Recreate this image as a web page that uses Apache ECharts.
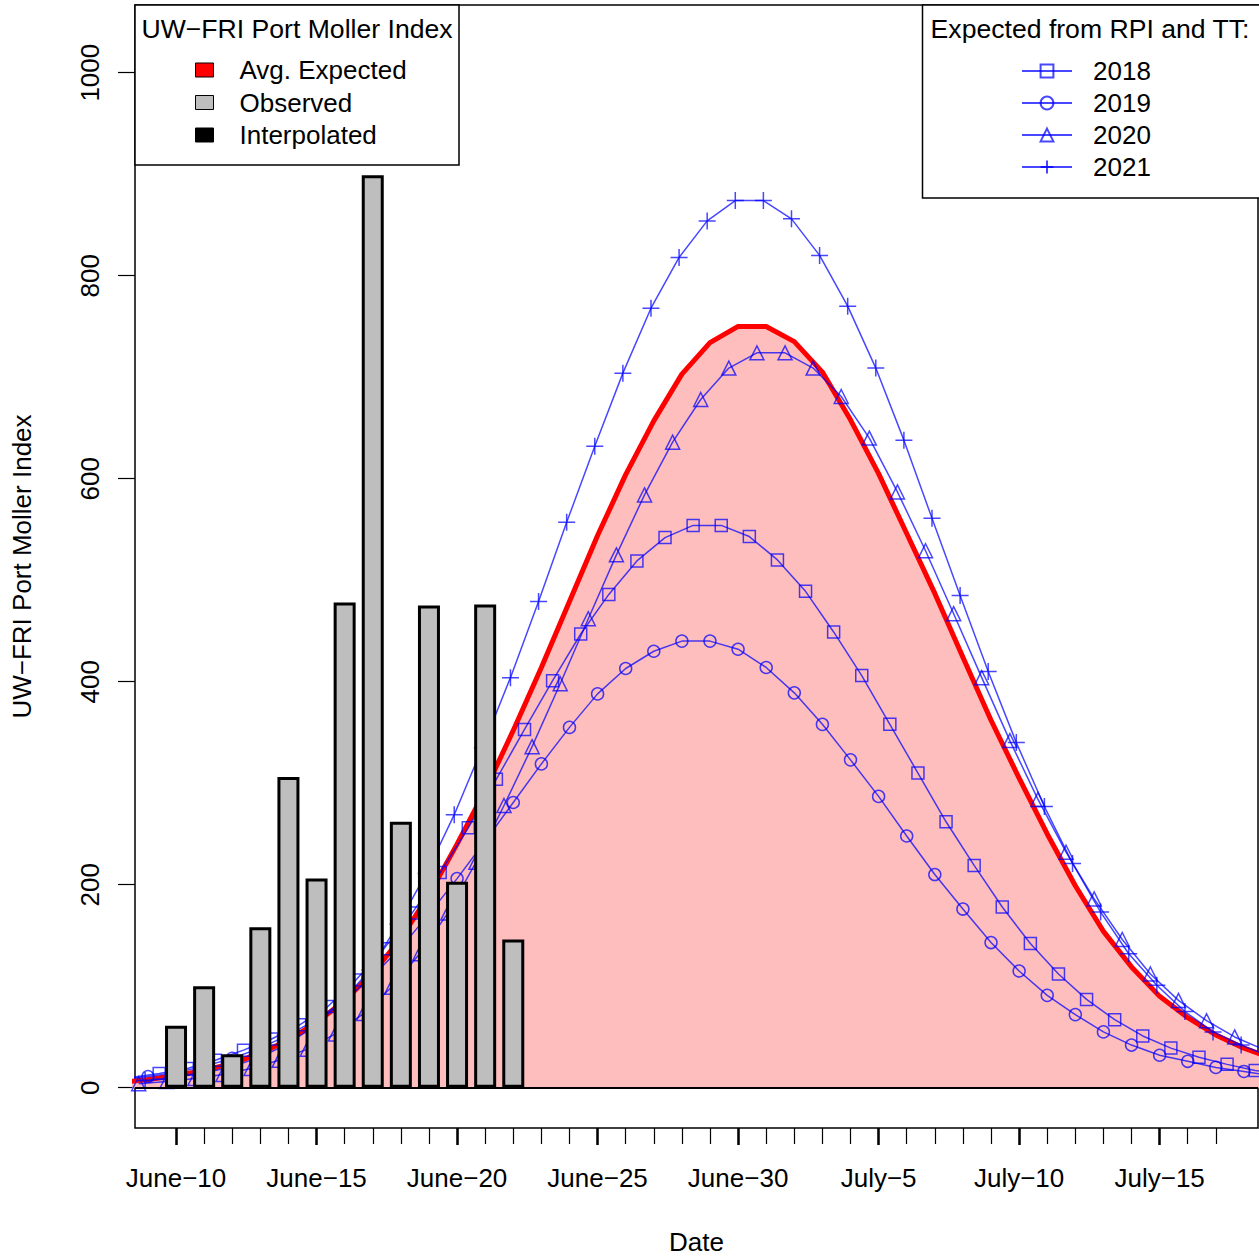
<!DOCTYPE html>
<html>
<head>
<meta charset="utf-8">
<title>UW-FRI Port Moller Index</title>
<script src="https://cdn.jsdelivr.net/npm/echarts@6/dist/echarts.min.js"></script>
<style>
  html, body { margin: 0; padding: 0; background: #fff; }
  #chart { width: 1259px; height: 1256px; }
</style>
</head>
<body>
<div id="chart"></div>
<script>
// days counted from June 10 (0 = June-10, 20 = June-30, 35 = July-15)
const days = [-2, -1, 0, 1, 2, 3, 4, 5, 6, 7, 8, 9, 10, 11, 12, 13, 14, 15, 16, 17, 18, 19,
  20, 21, 22, 23, 24, 25, 26, 27, 28, 29, 30, 31, 32, 33, 34, 35, 36, 37, 38, 39]

// observed index (June 10 .. June 22)
const obsDays = [0, 1, 2, 3, 4, 5, 6, 7, 8, 9, 10, 11, 12]
const observed = [61, 100, 33, 158, 306, 206, 478, 899, 262, 475, 203, 476, 146]

// average expected (red line + fill)
const avgExpected = [5, 8, 12, 17, 24, 34, 47, 64, 86, 113, 147, 190, 240, 293, 352, 414, 479, 544,
  604, 657, 703, 734, 750, 750, 735, 705, 658, 605, 546, 487, 424, 362, 305, 250, 199, 154, 119,
  90, 69, 52, 39, 29]

// expected from RPI and TT, one list per year
const exp2018 = [10, 14, 19, 27, 37, 48, 62, 80, 106, 137, 172, 212, 256, 304, 353, 401, 447, 486,
  519, 542, 554, 554, 543, 520, 489, 449, 406, 358, 310, 262, 219, 178, 142, 112, 87, 67, 51,
  39, 30, 23, 17, 13]
const exp2019 = [8, 11, 15, 21, 29, 39, 52, 67, 86, 110, 138, 171, 206, 243, 281, 319, 355, 388,
  413, 430, 440, 440, 432, 414, 389, 358, 323, 287, 248, 210, 176, 143, 115, 91, 72, 55, 42,
  32, 26, 20, 16, 12]
const exp2020 = [4, 6, 9, 13, 19, 27, 38, 53, 73, 99, 132, 172, 222, 278, 336, 398, 462, 525,
  584, 636, 678, 709, 724, 724, 709, 681, 640, 587, 529, 467, 404, 342, 284, 232, 186, 146, 112,
  86, 66, 50, 38, 29]
const exp2021 = [7, 10, 14, 20, 29, 42, 60, 85, 116, 161, 211, 269, 335, 404, 479, 557, 632, 704,
  768, 818, 854, 874, 874, 856, 820, 770, 709, 638, 561, 485, 410, 340, 277, 221, 173, 132, 101,
  75, 55, 42, 31, 23]

// where each year's points sit within the day
const shift2018 = 0.4
const shift2019 = 0
const shift2020 = 0.67
const shift2021 = 0.9

// axis ticks
const minorDays = [0, 1, 2, 3, 4, 5, 6, 7, 8, 9, 10, 11, 12, 13, 14, 15, 16, 17, 18, 19, 20, 21,
  22, 23, 24, 25, 26, 27, 28, 29, 30, 31, 32, 33, 34, 35, 36, 37]
const tickDays = [0, 5, 10, 15, 20, 25, 30, 35]
const tickLabels = ['June−10', 'June−15', 'June−20', 'June−25', 'June−30', 'July−5', 'July−10', 'July−15']
const yTicks = [0, 200, 400, 600, 800, 1000]

const FONT = '"Liberation Sans", Arial, Helvetica, sans-serif'
const BLUE = 'rgba(0, 0, 255, 0.72)'

const pairs = (values, shift) => days.map((d, i) => [d + shift, values[i]])

const yearSeries = (name, values, shift, symbol, size) => ({
  name: name,
  type: 'line',
  data: pairs(values, shift),
  z: 3,
  symbol: symbol,
  symbolSize: size,
  showSymbol: true,
  lineStyle: { color: BLUE, width: 1.5 },
  itemStyle: { color: 'rgba(0,0,0,0)', borderColor: BLUE, borderWidth: 1.5 },
  emphasis: { disabled: true }
})

const chart = echarts.init(document.getElementById('chart'), null, { renderer: 'svg' })

const option = {
  animation: false,
  backgroundColor: '#fff',
  textStyle: { fontFamily: FONT, color: '#000' },
  grid: {
    left: 135,
    top: 5,
    right: 1,
    bottom: 128,
    show: true,
    borderColor: '#000',
    borderWidth: 1.5,
    outerBoundsMode: 'none'
  },
  xAxis: [
    {
      type: 'value',
      min: -1.46,
      max: 38.5,
      position: 'bottom',
      axisLine: { show: false, onZero: false },
      splitLine: { show: false },
      axisTick: { show: true, customValues: minorDays, length: 16, lineStyle: { color: '#000', width: 1.2 } },
      axisLabel: { show: false }
    },
    {
      type: 'value',
      min: -1.46,
      max: 38.5,
      position: 'bottom',
      axisLine: { show: false, onZero: false },
      splitLine: { show: false },
      axisTick: { show: true, customValues: tickDays, length: 17, lineStyle: { color: '#000', width: 2.5 } },
      axisLabel: {
        customValues: tickDays,
        margin: 37,
        fontSize: 26,
        fontFamily: FONT,
        color: '#000',
        formatter: (v) => tickLabels[tickDays.indexOf(Math.round(v))]
      },
      name: 'Date',
      nameLocation: 'middle',
      nameGap: 101,
      nameTextStyle: { fontSize: 26, fontFamily: FONT, color: '#000' }
    }
  ],
  yAxis: {
    type: 'value',
    min: -39.7,
    max: 1066.7,
    axisLine: { show: false, onZero: false },
    splitLine: { show: false },
    axisTick: { show: true, customValues: yTicks, length: 17, lineStyle: { color: '#000', width: 1.2 } },
    axisLabel: {
      customValues: yTicks,
      rotate: 90,
      margin: 32,
      fontSize: 26,
      fontFamily: FONT,
      color: '#000',
      formatter: (v) => String(v)
    },
    name: 'UW−FRI Port Moller Index',
    nameLocation: 'middle',
    nameGap: 100,
    nameTextStyle: { fontSize: 26, fontFamily: FONT, color: '#000' }
  },
  legend: [
    {
      orient: 'vertical',
      left: 195,
      top: 57,
      padding: 0,
      itemWidth: 18,
      itemHeight: 14,
      itemGap: 6.5,
      selectedMode: false,
      itemStyle: { borderColor: '#000', borderWidth: 1 },
      textStyle: { fontSize: 26, lineHeight: 26, fontFamily: FONT, color: '#000', padding: [0, 0, 0, 21] },
      data: [
        { name: 'Avg. Expected', icon: 'rect', itemStyle: { color: '#ff0000' } },
        { name: 'Observed', icon: 'rect' },
        { name: 'Interpolated', icon: 'rect' }
      ]
    },
    {
      orient: 'vertical',
      left: 1021,
      top: 58,
      padding: 0,
      itemWidth: 50,
      itemHeight: 16,
      itemGap: 6,
      selectedMode: false,
      textStyle: { fontSize: 26, lineHeight: 26, fontFamily: FONT, color: '#000', padding: [0, 0, 0, 16] },
      data: ['2018', '2019', '2020', '2021']
    }
  ],
  graphic: [
    {
      type: 'rect',
      z: 3,
      shape: { x: 135, y: 5, width: 324, height: 160 },
      style: { fill: '#fff', stroke: '#000', lineWidth: 1.5 }
    },
    {
      type: 'text',
      z: 3,
      x: 297,
      y: 29,
      style: { text: 'UW−FRI Port Moller Index', font: '26.6px ' + FONT, fill: '#000', textAlign: 'center', textVerticalAlign: 'middle' }
    },
    {
      type: 'rect',
      z: 3,
      shape: { x: 922.5, y: 5, width: 340, height: 193 },
      style: { fill: '#fff', stroke: '#000', lineWidth: 1.5 }
    },
    {
      type: 'text',
      z: 3,
      x: 1090,
      y: 29,
      style: { text: 'Expected from RPI and TT:', font: '26.6px ' + FONT, fill: '#000', textAlign: 'center', textVerticalAlign: 'middle' }
    }
  ],
  series: [
    {
      name: 'Avg. Expected',
      type: 'line',
      data: pairs(avgExpected, 0),
      z: 2,
      showSymbol: false,
      lineStyle: { color: '#ff0000', width: 5 },
      itemStyle: { color: '#ff0000' },
      areaStyle: { color: '#ffbebe', opacity: 1, origin: 'auto' },
      emphasis: { disabled: true }
    },
    yearSeries('2018', exp2018, shift2018, 'rect', 12),
    yearSeries('2019', exp2019, shift2019, 'circle', 12),
    yearSeries('2020', exp2020, shift2020, 'triangle', 14),
    yearSeries('2021', exp2021, shift2021, 'path://M5,0L5,10M0,5L10,5', 17),
    {
      name: 'Observed',
      type: 'bar',
      data: obsDays.map((d, i) => [d, observed[i]]),
      z: 4,
      barWidth: 22,
      barGap: '-100%',
      itemStyle: { color: '#bebebe', borderColor: '#000', borderWidth: 3 },
      emphasis: { disabled: true },
      markLine: {
        silent: true,
        symbol: ['none', 'none'],
        label: { show: false },
        lineStyle: { color: '#000', width: 2, type: 'solid' },
        data: [{ yAxis: 0 }]
      }
    },
    {
      name: 'Interpolated',
      type: 'bar',
      data: [],
      barWidth: 22,
      barGap: '-100%',
      itemStyle: { color: '#000', borderColor: '#000', borderWidth: 1 }
    }
  ]
}

chart.setOption(option)
window.addEventListener('resize', function () {
  chart.resize()
})
</script>
</body>
</html>
